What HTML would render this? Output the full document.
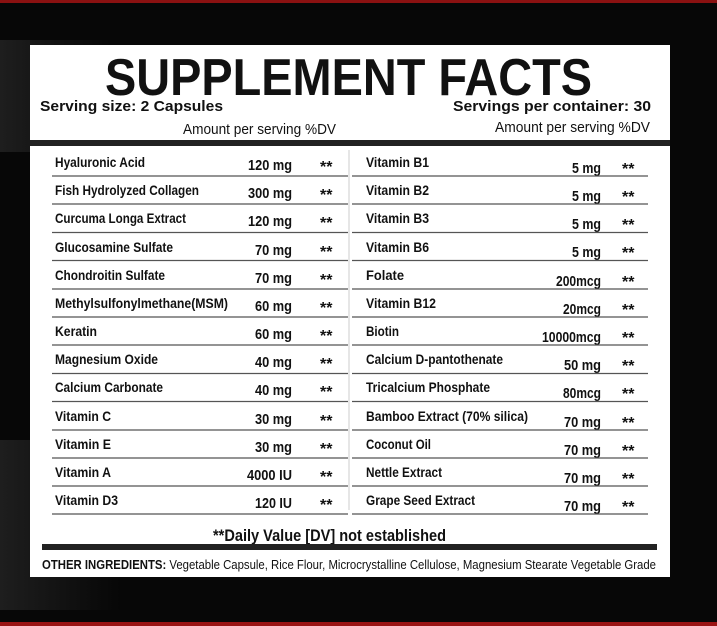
<!DOCTYPE html>
<html><head><meta charset="utf-8"><style>
html,body{margin:0;padding:0;background:#050505;}
svg{display:block}
text{font-family:"Liberation Sans",sans-serif;fill:#111}
.b{font-weight:bold}
</style></head><body>
<svg width="717" height="626" viewBox="0 0 717 626" xmlns="http://www.w3.org/2000/svg">
<defs><linearGradient id="g" x1="0" x2="1"><stop offset="0" stop-color="#1e1e1e"/><stop offset="1" stop-color="#070707"/></linearGradient></defs>
<rect width="717" height="626" fill="#070707"/>
<rect x="0" y="40" width="110" height="112" fill="url(#g)"/>
<rect x="0" y="440" width="120" height="170" fill="url(#g)"/>
<rect x="0" y="0" width="717" height="3" fill="#8a1111"/>
<rect x="0" y="622" width="717" height="4" fill="#9a1414"/>
<rect x="30" y="45" width="640" height="532" fill="#fff"/>
<text class="b" x="105" y="95" font-size="52" textLength="487" lengthAdjust="spacingAndGlyphs">SUPPLEMENT FACTS</text>
<text class="b" x="40" y="111" font-size="15" textLength="183" lengthAdjust="spacingAndGlyphs">Serving size: 2 Capsules</text>
<text class="b" x="453" y="111" font-size="15" textLength="198" lengthAdjust="spacingAndGlyphs">Servings per container: 30</text>
<text x="183" y="134" font-size="15" textLength="153" lengthAdjust="spacingAndGlyphs">Amount per serving %DV</text>
<text x="495" y="132" font-size="15" textLength="155" lengthAdjust="spacingAndGlyphs">Amount per serving %DV</text>
<rect x="30" y="140" width="640" height="6" fill="#222"/>
<line x1="349" y1="150" x2="349" y2="510" stroke="#ccc" stroke-width="1"/>
<g font-size="14">
<text class="b" x="55" y="167" textLength="90" lengthAdjust="spacingAndGlyphs">Hyaluronic Acid</text>
<text class="b" x="55" y="195" textLength="144" lengthAdjust="spacingAndGlyphs">Fish Hydrolyzed Collagen</text>
<text class="b" x="55" y="223" textLength="131" lengthAdjust="spacingAndGlyphs">Curcuma Longa Extract</text>
<text class="b" x="55" y="252" textLength="118" lengthAdjust="spacingAndGlyphs">Glucosamine Sulfate</text>
<text class="b" x="55" y="280" textLength="110" lengthAdjust="spacingAndGlyphs">Chondroitin Sulfate</text>
<text class="b" x="55" y="308" textLength="173" lengthAdjust="spacingAndGlyphs">Methylsulfonylmethane(MSM)</text>
<text class="b" x="55" y="336" textLength="42" lengthAdjust="spacingAndGlyphs">Keratin</text>
<text class="b" x="55" y="364" textLength="103" lengthAdjust="spacingAndGlyphs">Magnesium Oxide</text>
<text class="b" x="55" y="392" textLength="108" lengthAdjust="spacingAndGlyphs">Calcium Carbonate</text>
<text class="b" x="55" y="421" textLength="56" lengthAdjust="spacingAndGlyphs">Vitamin C</text>
<text class="b" x="55" y="449" textLength="56" lengthAdjust="spacingAndGlyphs">Vitamin E</text>
<text class="b" x="55" y="477" textLength="56" lengthAdjust="spacingAndGlyphs">Vitamin A</text>
<text class="b" x="55" y="505" textLength="63" lengthAdjust="spacingAndGlyphs">Vitamin D3</text>

<g text-anchor="end" font-size="15">
<text class="b" x="292" y="170" textLength="44" lengthAdjust="spacingAndGlyphs">120 mg</text>
<text class="b" x="292" y="198" textLength="44" lengthAdjust="spacingAndGlyphs">300 mg</text>
<text class="b" x="292" y="226" textLength="44" lengthAdjust="spacingAndGlyphs">120 mg</text>
<text class="b" x="292" y="255" textLength="37" lengthAdjust="spacingAndGlyphs">70 mg</text>
<text class="b" x="292" y="283" textLength="37" lengthAdjust="spacingAndGlyphs">70 mg</text>
<text class="b" x="292" y="311" textLength="37" lengthAdjust="spacingAndGlyphs">60 mg</text>
<text class="b" x="292" y="339" textLength="37" lengthAdjust="spacingAndGlyphs">60 mg</text>
<text class="b" x="292" y="367" textLength="37" lengthAdjust="spacingAndGlyphs">40 mg</text>
<text class="b" x="292" y="395" textLength="37" lengthAdjust="spacingAndGlyphs">40 mg</text>
<text class="b" x="292" y="424" textLength="37" lengthAdjust="spacingAndGlyphs">30 mg</text>
<text class="b" x="292" y="452" textLength="37" lengthAdjust="spacingAndGlyphs">30 mg</text>
<text class="b" x="292" y="480" textLength="45" lengthAdjust="spacingAndGlyphs">4000 IU</text>
<text class="b" x="292" y="508" textLength="37" lengthAdjust="spacingAndGlyphs">120 IU</text>
<text class="b" x="601" y="173" textLength="29" lengthAdjust="spacingAndGlyphs">5 mg</text>
<text class="b" x="601" y="201" textLength="29" lengthAdjust="spacingAndGlyphs">5 mg</text>
<text class="b" x="601" y="229" textLength="29" lengthAdjust="spacingAndGlyphs">5 mg</text>
<text class="b" x="601" y="257" textLength="29" lengthAdjust="spacingAndGlyphs">5 mg</text>
<text class="b" x="601" y="286" textLength="45" lengthAdjust="spacingAndGlyphs">200mcg</text>
<text class="b" x="601" y="314" textLength="38" lengthAdjust="spacingAndGlyphs">20mcg</text>
<text class="b" x="601" y="342" textLength="59" lengthAdjust="spacingAndGlyphs">10000mcg</text>
<text class="b" x="601" y="370" textLength="37" lengthAdjust="spacingAndGlyphs">50 mg</text>
<text class="b" x="601" y="398" textLength="38" lengthAdjust="spacingAndGlyphs">80mcg</text>
<text class="b" x="601" y="427" textLength="37" lengthAdjust="spacingAndGlyphs">70 mg</text>
<text class="b" x="601" y="455" textLength="37" lengthAdjust="spacingAndGlyphs">70 mg</text>
<text class="b" x="601" y="483" textLength="37" lengthAdjust="spacingAndGlyphs">70 mg</text>
<text class="b" x="601" y="511" textLength="37" lengthAdjust="spacingAndGlyphs">70 mg</text>
</g>

<text class="b" x="366" y="167" textLength="63" lengthAdjust="spacingAndGlyphs">Vitamin B1</text>
<text class="b" x="366" y="195" textLength="63" lengthAdjust="spacingAndGlyphs">Vitamin B2</text>
<text class="b" x="366" y="223" textLength="63" lengthAdjust="spacingAndGlyphs">Vitamin B3</text>
<text class="b" x="366" y="252" textLength="63" lengthAdjust="spacingAndGlyphs">Vitamin B6</text>
<text class="b" x="366" y="280" textLength="38" lengthAdjust="spacingAndGlyphs">Folate</text>
<text class="b" x="366" y="308" textLength="70" lengthAdjust="spacingAndGlyphs">Vitamin B12</text>
<text class="b" x="366" y="336" textLength="33" lengthAdjust="spacingAndGlyphs">Biotin</text>
<text class="b" x="366" y="364" textLength="137" lengthAdjust="spacingAndGlyphs">Calcium D-pantothenate</text>
<text class="b" x="366" y="392" textLength="124" lengthAdjust="spacingAndGlyphs">Tricalcium Phosphate</text>
<text class="b" x="366" y="421" textLength="162" lengthAdjust="spacingAndGlyphs">Bamboo Extract (70% silica)</text>
<text class="b" x="366" y="449" textLength="65" lengthAdjust="spacingAndGlyphs">Coconut Oil</text>
<text class="b" x="366" y="477" textLength="76" lengthAdjust="spacingAndGlyphs">Nettle Extract</text>
<text class="b" x="366" y="505" textLength="109" lengthAdjust="spacingAndGlyphs">Grape Seed Extract</text>

<g font-size="16">
<text class="b" x="320" y="172">**</text><text class="b" x="622" y="174">**</text>
<text class="b" x="320" y="200">**</text><text class="b" x="622" y="202">**</text>
<text class="b" x="320" y="228">**</text><text class="b" x="622" y="230">**</text>
<text class="b" x="320" y="257">**</text><text class="b" x="622" y="258">**</text>
<text class="b" x="320" y="285">**</text><text class="b" x="622" y="287">**</text>
<text class="b" x="320" y="313">**</text><text class="b" x="622" y="315">**</text>
<text class="b" x="320" y="341">**</text><text class="b" x="622" y="343">**</text>
<text class="b" x="320" y="369">**</text><text class="b" x="622" y="371">**</text>
<text class="b" x="320" y="397">**</text><text class="b" x="622" y="399">**</text>
<text class="b" x="320" y="426">**</text><text class="b" x="622" y="428">**</text>
<text class="b" x="320" y="454">**</text><text class="b" x="622" y="456">**</text>
<text class="b" x="320" y="482">**</text><text class="b" x="622" y="484">**</text>
<text class="b" x="320" y="510">**</text><text class="b" x="622" y="512">**</text>
</g>
</g>
<g stroke="#555" stroke-width="1.2">
<line x1="52" y1="176" x2="348" y2="176"/><line x1="352" y1="176" x2="648" y2="176"/>
<line x1="52" y1="204" x2="348" y2="204"/><line x1="352" y1="204" x2="648" y2="204"/>
<line x1="52" y1="232.5" x2="348" y2="232.5"/><line x1="352" y1="232.5" x2="648" y2="232.5"/>
<line x1="52" y1="260.5" x2="348" y2="260.5"/><line x1="352" y1="260.5" x2="648" y2="260.5"/>
<line x1="52" y1="289" x2="348" y2="289"/><line x1="352" y1="289" x2="648" y2="289"/>
<line x1="52" y1="317" x2="348" y2="317"/><line x1="352" y1="317" x2="648" y2="317"/>
<line x1="52" y1="345" x2="348" y2="345"/><line x1="352" y1="345" x2="648" y2="345"/>
<line x1="52" y1="373.5" x2="348" y2="373.5"/><line x1="352" y1="373.5" x2="648" y2="373.5"/>
<line x1="52" y1="401.5" x2="348" y2="401.5"/><line x1="352" y1="401.5" x2="648" y2="401.5"/>
<line x1="52" y1="430" x2="348" y2="430"/><line x1="352" y1="430" x2="648" y2="430"/>
<line x1="52" y1="458" x2="348" y2="458"/><line x1="352" y1="458" x2="648" y2="458"/>
<line x1="52" y1="486" x2="348" y2="486"/><line x1="352" y1="486" x2="648" y2="486"/>
<line x1="52" y1="514" x2="348" y2="514"/><line x1="352" y1="514" x2="648" y2="514"/>
</g>
<text class="b" x="213" y="541" font-size="17" textLength="233" lengthAdjust="spacingAndGlyphs">**Daily Value [DV] not established</text>
<rect x="42" y="544" width="615" height="6" fill="#222"/>
<text x="42" y="569" font-size="13" textLength="614" lengthAdjust="spacingAndGlyphs"><tspan font-weight="bold">OTHER INGREDIENTS:</tspan> Vegetable Capsule, Rice Flour, Microcrystalline Cellulose, Magnesium Stearate Vegetable Grade</text>
</svg>
</body></html>
